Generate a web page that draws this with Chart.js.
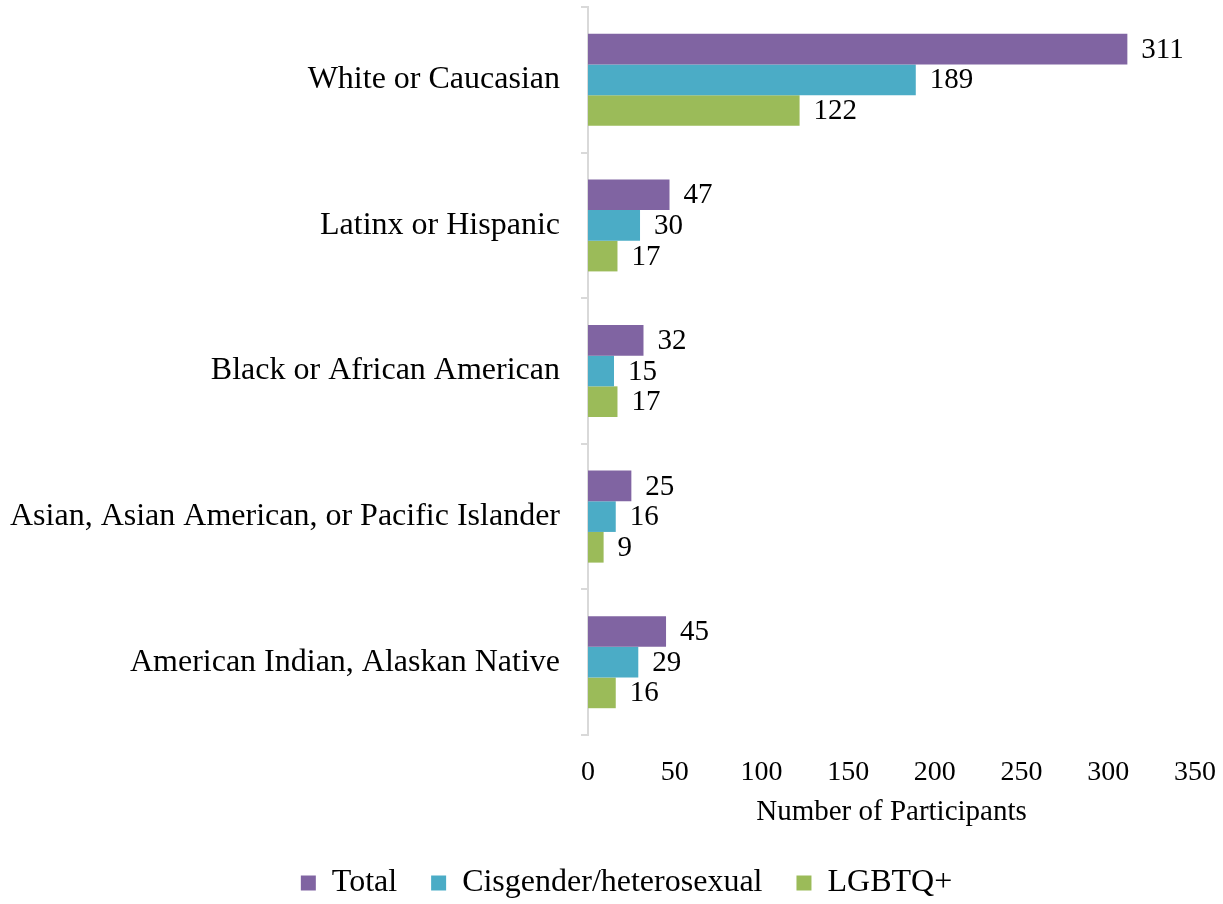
<!DOCTYPE html>
<html>
<head>
<meta charset="utf-8">
<script src="https://cdn.jsdelivr.net/npm/chart.js@4"></script>
<style>
    html, body { margin: 0; padding: 0; background: #fff; }
    #wrap { width: 1223px; height: 904px; }
</style>
</head>
<body>
<div id="wrap"><canvas id="RaceChart"></canvas></div>
<script>
const categories = [
    'White or Caucasian',
    'Latinx or Hispanic',
    'Black or African American',
    'Asian, Asian American, or Pacific Islander',
    'American Indian, Alaskan Native'
];
const totalValues = [311, 47, 32, 25, 45];
const cisValues = [189, 30, 15, 16, 29];
const lgbtqValues = [122, 17, 17, 9, 16];
const xTicks = [0, 50, 100, 150, 200, 250, 300, 350];

const fontFamily = '"Liberation Serif", "Times New Roman", serif';

// value labels at the end of each bar
const valueLabels = {
    id: 'valueLabels',
    afterDatasetsDraw(chart) {
        const ctx = chart.ctx;
        ctx.save();
        ctx.font = '29px ' + fontFamily;
        ctx.fillStyle = '#000';
        ctx.textAlign = 'left';
        ctx.textBaseline = 'middle';
        chart.data.datasets.forEach((ds, i) => {
            chart.getDatasetMeta(i).data.forEach((bar, j) => {
                ctx.fillText(ds.data[j], bar.x + 14, bar.y + 1);
            });
        });
        ctx.restore();
    }
};

// nudge the legend a little to the right, like the original
const legendShift = {
    id: 'legendShift',
    afterLayout(chart) {
        if (chart.legend) chart.legend.left += 30;
    }
};

const data = {
    labels: categories,
    datasets: [
        { label: 'Total', data: totalValues, backgroundColor: '#8064A2' },
        { label: 'Cisgender/heterosexual', data: cisValues, backgroundColor: '#4BACC6' },
        { label: 'LGBTQ+', data: lgbtqValues, backgroundColor: '#9BBB59' }
    ]
};

const config = {
    type: 'bar',
    data: data,
    plugins: [valueLabels, legendShift],
    options: {
        indexAxis: 'y',
        responsive: true,
        maintainAspectRatio: false,
        animation: false,
        layout: { padding: { top: 7, right: 0, left: 0, bottom: -5 } },
        datasets: {
            bar: { categoryPercentage: 0.632, barPercentage: 1.0 }
        },
        scales: {
            x: {
                min: 0,
                max: 350,
                afterBuildTicks: scale => { scale.ticks = xTicks.map(v => ({ value: v })); },
                grid: { display: false },
                border: { display: false },
                ticks: {
                    color: '#000',
                    padding: 13,
                    font: { family: fontFamily, size: 28 }
                },
                title: {
                    display: true,
                    text: 'Number of Participants',
                    color: '#000',
                    font: { family: fontFamily, size: 29 },
                    padding: { top: 4, bottom: 3 }
                },
                afterFit: scale => {
                    scale.height = 98;
                    scale.paddingLeft = 0;
                    scale.paddingRight = 28;
                }
            },
            y: {
                offset: true,
                grid: {
                    display: true,
                    drawOnChartArea: false,
                    drawTicks: true,
                    tickLength: 7,
                    color: '#D9D9D9',
                    lineWidth: 2
                },
                border: { display: true, color: '#D9D9D9', width: 2 },
                ticks: {
                    color: '#000',
                    padding: 21,
                    font: { family: fontFamily, size: 32 }
                },
                afterFit: scale => {
                    scale.width = 588;
                    scale.paddingTop = 0;
                    scale.paddingBottom = 0;
                }
            }
        },
        plugins: {
            legend: {
                position: 'bottom',
                labels: {
                    color: '#000',
                    boxWidth: 15,
                    boxHeight: 15,
                    padding: 34,
                    font: { family: fontFamily, size: 32 }
                }
            },
            tooltip: { enabled: false }
        }
    }
};

new Chart(document.getElementById('RaceChart'), config);
</script>
</body>
</html>
